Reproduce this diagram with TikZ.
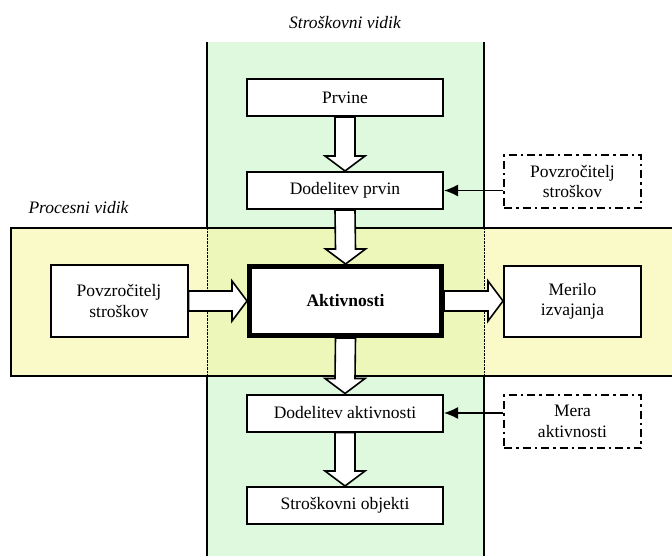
\documentclass[tikz,border=0pt]{standalone}
\usepackage{fontspec}
\setmainfont{Liberation Serif}
\usetikzlibrary{calc,arrows.meta}

\definecolor{costgreen}{RGB}{222,249,222}
\definecolor{procyellow}{RGB}{250,250,200}
\definecolor{overlapcol}{RGB}{238,247,186}

\tikzset{
  box/.style={rectangle, draw, fill=white, line width=2pt, inner sep=0pt, align=center},
  dashbox/.style={rectangle, draw, fill=white, line width=2pt, inner sep=0pt, align=center,
    dash pattern=on 8pt off 4pt on 2.5pt off 4pt},
  fatarrow/.style={draw, fill=white, line width=1.6pt, line join=miter},
  band/.style={line width=2.4pt},
  pointer/.style={line width=1.3pt, -{Latex[length=14pt,width=12pt]}}
}

\newcommand{\fatdown}[2]{%
\draw[fatarrow] ($(#1)+(-10,0)$) -- ($(#2)+(-10,-15)$) -- ($(#2)+(-20,-15)$) -- (#2) -- ($(#2)+(20,-15)$) -- ($(#2)+(10,-15)$) -- ($(#1)+(10,0)$) -- cycle;}
\newcommand{\fatright}[2]{%
\draw[fatarrow] ($(#1)+(0,-10)$) -- ($(#2)+(-15,-10)$) -- ($(#2)+(-15,-20)$) -- (#2) -- ($(#2)+(-15,20)$) -- ($(#2)+(-15,10)$) -- ($(#1)+(0,10)$) -- cycle;}

\begin{document}
\begin{tikzpicture}[x=1pt, y=-1pt, font=\fontsize{17.5}{20.5}\selectfont]
\useasboundingbox (0,0) rectangle (672,556);

% the two views
\fill[costgreen] (207,42) rectangle (484,556);
\fill[procyellow] (11,228) rectangle (672,376);
\fill[overlapcol] (207,228) rectangle (484,376);
\draw[band] (207,42) -- (207,228) (207,376) -- (207,556);
\draw[band] (484,42) -- (484,228) (484,376) -- (484,556);
\draw[band] (672,228) -- (11,228) -- (11,376) -- (672,376);
\draw[densely dotted, thin] (207,228) -- (207,376) (484,228) -- (484,376);

\node (costview) at (345,23) {\itshape Stroškovni vidik};
\node[anchor=west] (procview) at (25,208) {\itshape Procesni vidik};

\node[box, minimum width=196, minimum height=37] (prvine) at (345,97.5) {Prvine};
\node[box, minimum width=196, minimum height=37] (dodprvin) at (345,190.5) {Dodelitev prvin};
\node[box, line width=5pt, minimum width=192, minimum height=69] (akt) at (345.5,301) {\bfseries Aktivnosti};
\node[box, minimum width=137, minimum height=72] (povzleft) at (119,301) {Povzročitelj\\stroškov};
\node[box, minimum width=137, minimum height=71] (merilo) at (572.5,301.5) {Merilo\\izvajanja};
\node[box, minimum width=196, minimum height=37] (dodakt) at (345,413) {Dodelitev aktivnosti};
\node[box, minimum width=196, minimum height=37] (strobj) at (345,505.5) {Stroškovni objekti};
\node[dashbox, minimum width=137, minimum height=53] (povzright) at (572.5,181.5) {Povzročitelj\\stroškov};
\node[dashbox, minimum width=137, minimum height=53] (mera) at (572.5,421.5) {Mera\\aktivnosti};

\fatdown{prvine.south}{dodprvin.north}
\fatdown{dodprvin.south}{akt.north}
\fatdown{akt.south}{dodakt.north}
\fatdown{dodakt.south}{strobj.north}
\fatright{povzleft.east |- akt.west}{akt.west}
\fatright{akt.east}{merilo.west |- akt.east}

\draw[pointer] (povzright.west |- dodprvin.east) -- (dodprvin.east);
\draw[pointer] (mera.west |- dodakt.east) -- (dodakt.east);

\end{tikzpicture}
\end{document}
